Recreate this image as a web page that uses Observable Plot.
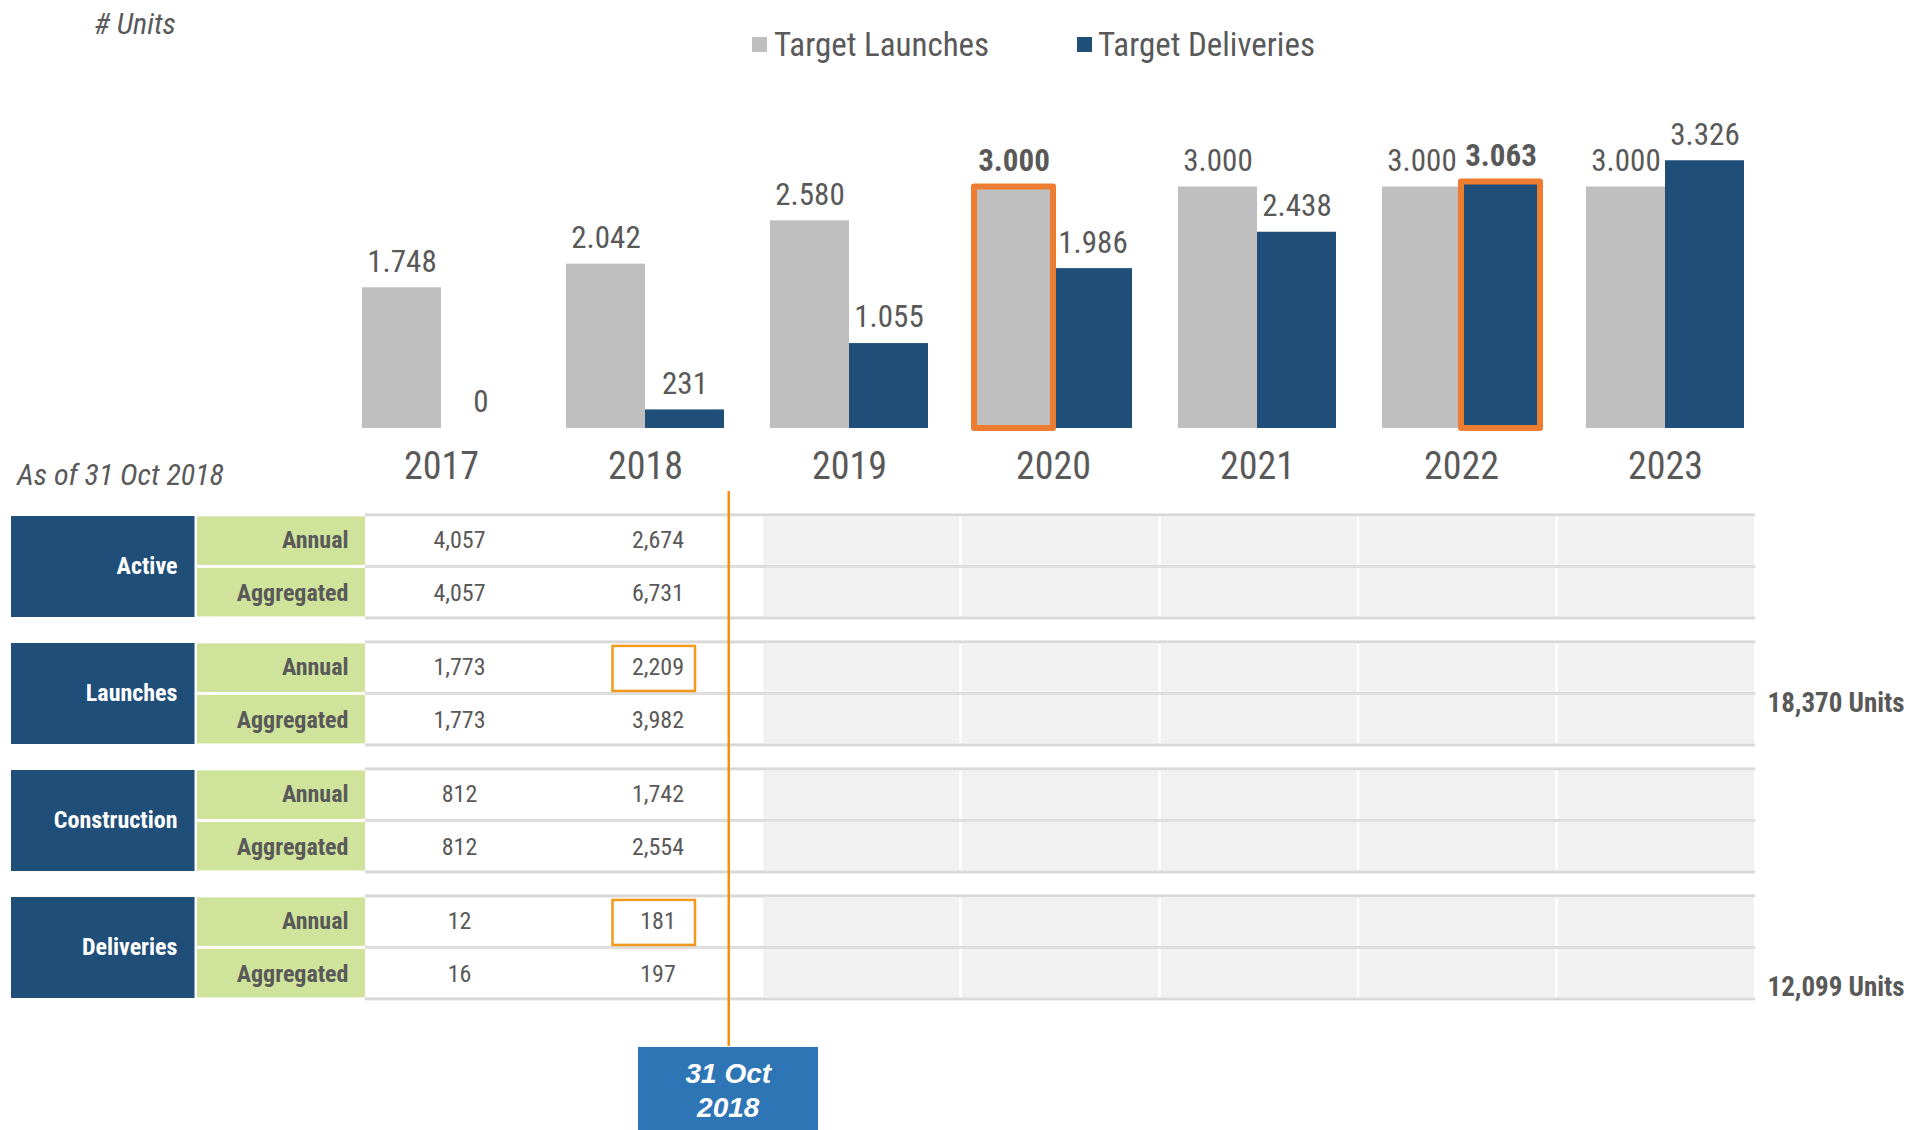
<!DOCTYPE html>
<html>
<head>
<meta charset="utf-8">
<script src="https://cdn.jsdelivr.net/npm/d3@7"></script>
<script src="https://cdn.jsdelivr.net/npm/@observablehq/plot@0.6"></script>
<style>
  html, body { margin: 0; padding: 0; background: #ffffff; }
  #root { position: relative; width: 1911px; height: 1130px; overflow: hidden; background: #ffffff; }
  .txt { position: absolute; white-space: nowrap; line-height: 1; color: #595959;
         font-family: "Liberation Sans Narrow", "Arial Narrow", "Roboto Condensed", "Liberation Sans", Arial, sans-serif; }
  .sw { position: absolute; width: 15px; height: 15px; }
  #datebox { position: absolute; background: #2e75b6; color: #ffffff; text-align: center;
             font-family: "Liberation Sans", Arial, sans-serif; font-weight: bold; font-style: italic;
             font-size: 28px; line-height: 34px; box-sizing: border-box; padding-top: 10px; }
</style>
</head>
<body>
<div id="root"></div>
<script>
// ---------------- DATA ----------------
const years = [2017, 2018, 2019, 2020, 2021, 2022, 2023];
const seriesNames = ["Target Launches", "Target Deliveries"];
const seriesColors = ["#bfbfbf", "#1f4e79"];
const targetLaunches = [1748, 2042, 2580, 3000, 3000, 3000, 3000];
const targetDeliveries = [0, 231, 1055, 1986, 2438, 3063, 3326];
const highlightBars = [[2020, "Target Launches"], [2022, "Target Deliveries"]];

const categories = ["Active", "Launches", "Construction", "Deliveries"];
const rowLabels = ["Annual", "Aggregated"];
const tableYears = [2017, 2018];
const activeAnnual = [4057, 2674];
const activeAggregated = [4057, 6731];
const launchesAnnual = [1773, 2209];
const launchesAggregated = [1773, 3982];
const constructionAnnual = [812, 1742];
const constructionAggregated = [812, 2554];
const deliveriesAnnual = [12, 181];
const deliveriesAggregated = [16, 197];
const highlightCells = [["Launches", "Annual", 2018], ["Deliveries", "Annual", 2018]];
const asOfDateText = "2018-10-31";
const asOfLabel = ["31 Oct", "2018"];
const unitsLabel = "# Units";
const asOfCaption = "As of 31 Oct 2018";

// ---------------- HELPERS ----------------
const FONT = '"Liberation Sans Narrow", "Arial Narrow", "Roboto Condensed", "Liberation Sans", Arial, sans-serif';
const TEXT = "#595959";
const root = document.getElementById("root");
const euro = d3.formatLocale({decimal: ",", thousands: ".", grouping: [3], currency: ["", ""]}).format(",d");
const fmtTable = d3.format(",");
const yearStart = y => new Date(Date.UTC(y, 0, 1));
const yearMid = y => new Date(Date.UTC(y, 6, 2));
const asOfDate = new Date(asOfDateText + "T00:00:00Z");

function place(el, left, top) {
  el.style.position = "absolute";
  el.style.left = left + "px";
  el.style.top = top + "px";
  root.appendChild(el);
}
function addText(str, left, centerY, size, opts = {}) {
  const d = document.createElement("div");
  d.className = "txt";
  d.textContent = str;
  d.style.fontSize = size + "px";
  d.style.left = left + "px";
  d.style.top = (centerY - 0.49 * size) + "px";
  if (opts.italic) d.style.fontStyle = "italic";
  if (opts.bold) d.style.fontWeight = "bold";
  root.appendChild(d);
  return d;
}

// ---------------- BAR CHART ----------------
const barData = years.flatMap((y, i) => [
  {year: y, series: seriesNames[0], value: targetLaunches[i]},
  {year: y, series: seriesNames[1], value: targetDeliveries[i]}
]);
const isHi = d => highlightBars.some(([y, s]) => y === d.year && s === d.series);

const bars = Plot.plot({
  width: 1911, height: 500,
  marginTop: 106, marginBottom: 72, marginLeft: 361, marginRight: 166,
  fx: {domain: years, paddingInner: 0.227, paddingOuter: 0, label: null, tickFormat: d => String(d)},
  x: {domain: seriesNames, padding: 0, axis: null},
  y: {domain: [0, 4000], axis: null},
  color: {domain: seriesNames, range: seriesColors},
  style: {background: "none", fontFamily: FONT, fontSize: "38px", color: TEXT},
  marks: [
    Plot.barY(barData, {fx: "year", x: "series", y: "value", fill: "series"}),
    Plot.barY(barData.filter(isHi), {fx: "year", x: "series", y: "value", fill: "none",
      stroke: "#ed7d31", strokeWidth: 6, strokeLinejoin: "round"}),
    Plot.text(barData.filter(d => !isHi(d)), {fx: "year", x: "series", y: "value",
      text: d => euro(d.value), dy: -26, fontSize: 31, fill: TEXT}),
    Plot.text(barData.filter(isHi), {fx: "year", x: "series", y: "value",
      text: d => euro(d.value), dy: -26, fontSize: 31, fontWeight: "bold", fill: TEXT}),
    Plot.axisFx({anchor: "bottom", tickSize: 0, tickPadding: 24, fontSize: 38, label: null, fill: TEXT,
      tickFormat: d => String(d)})
  ]
});
place(bars, 0, 0);

// ---------------- LEGEND & CAPTIONS ----------------
const legendX = [[752, 774], [1077, 1098]];
seriesNames.forEach((s, i) => {
  const sw = document.createElement("div");
  sw.className = "sw";
  sw.style.background = seriesColors[i];
  place(sw, legendX[i][0], 37);
  addText(s, legendX[i][1], 44, 33);
});
addText(unitsLabel, 94, 24, 30, {italic: true});
addText(asOfCaption, 17, 475, 30, {italic: true});

// ---------------- TABLE ----------------
const tableValues = {
  Active: {Annual: activeAnnual, Aggregated: activeAggregated},
  Launches: {Annual: launchesAnnual, Aggregated: launchesAggregated},
  Construction: {Annual: constructionAnnual, Aggregated: constructionAggregated},
  Deliveries: {Annual: deliveriesAnnual, Aggregated: deliveriesAggregated}
};
const rowsAll = categories.flatMap(c => rowLabels.map(r => ({cat: c, row: r})));
const valueCells = rowsAll.flatMap(({cat, row}) =>
  tableYears.map((y, i) => ({cat, row, year: y, value: tableValues[cat][row][i]})));
const futureYears = years.filter(y => !tableYears.includes(y));
const futureCells = rowsAll.flatMap(({cat, row}) => futureYears.map(y => ({cat, row, year: y})));
const hiCells = highlightCells.map(([cat, row, year]) => ({cat, row, year}));

const TABLE_TOP = 490, TABLE_H = 521, MT = 21.6, MB = 10;
const fyOpts = {domain: categories, paddingInner: 0.167, paddingOuter: 0, axis: null};
const yOpts = {domain: rowLabels, padding: 0, axis: null};
const GREEN = "#cfe39b", NAVY = "#1f4e79", LINE = "#d9d9d9", GREY = "#f1f1f1";

const left = Plot.plot({
  width: 370, height: TABLE_H, marginLeft: 11, marginRight: 4, marginTop: MT, marginBottom: MB,
  x: {domain: ["category", "label"], paddingInner: 0.011, paddingOuter: 0, axis: null},
  y: yOpts, fy: fyOpts,
  style: {background: "none", fontFamily: FONT},
  marks: [
    Plot.cell(categories, {x: () => "category", fy: d => d, fill: NAVY, insetTop: 3, insetBottom: 2, insetRight: -7.5}),
    Plot.text(categories, {x: () => "category", fy: d => d, text: d => d, fill: "#ffffff",
      fontWeight: "bold", fontSize: 24, textAnchor: "end", dx: 78}),
    Plot.cell(rowsAll.filter(d => d.row === rowLabels[0]), {x: () => "label", y: "row", fy: "cat",
      fill: GREEN, insetTop: 3, insetBottom: 1.5, insetLeft: 8}),
    Plot.cell(rowsAll.filter(d => d.row === rowLabels[1]), {x: () => "label", y: "row", fy: "cat",
      fill: GREEN, insetTop: 1.5, insetBottom: 3, insetLeft: 8}),
    Plot.text(rowsAll, {x: () => "label", y: "row", fy: "cat", text: "row", textAnchor: "end", dx: 71,
      fontWeight: "bold", fontSize: 24, fill: TEXT})
  ]
});
place(left, 0, TABLE_TOP);

const xDomain = [yearStart(years[0]), yearStart(years[years.length - 1] + 1)];
const rowSpan = {x1: () => xDomain[0], x2: () => xDomain[1], y: "row", fy: "cat"};
const launchTotal = d3.sum(targetLaunches);
const deliveryTotal = d3.sum(targetDeliveries);

const right = Plot.plot({
  width: 1546, height: TABLE_H, marginLeft: 0, marginRight: 156, marginTop: MT, marginBottom: MB,
  x: {type: "utc", domain: xDomain, axis: null},
  y: yOpts, fy: fyOpts,
  style: {background: "none", fontFamily: FONT},
  marks: [
    Plot.barX(rowsAll, {...rowSpan, fill: LINE}),
    Plot.barX(rowsAll.filter(d => d.row === rowLabels[0]), {...rowSpan, fill: "#ffffff", insetTop: 3, insetBottom: 1.5}),
    Plot.barX(rowsAll.filter(d => d.row === rowLabels[1]), {...rowSpan, fill: "#ffffff", insetTop: 1.5, insetBottom: 3}),
    Plot.barX(futureCells.filter(d => d.row === rowLabels[0]), {x1: d => yearStart(d.year), x2: d => yearStart(d.year + 1),
      y: "row", fy: "cat", fill: GREY, insetTop: 3, insetBottom: 1.5, insetLeft: 1.2, insetRight: 1.2}),
    Plot.barX(futureCells.filter(d => d.row === rowLabels[1]), {x1: d => yearStart(d.year), x2: d => yearStart(d.year + 1),
      y: "row", fy: "cat", fill: GREY, insetTop: 1.5, insetBottom: 3, insetLeft: 1.2, insetRight: 1.2}),
    Plot.text(valueCells, {x: d => yearMid(d.year), y: "row", fy: "cat", text: d => fmtTable(d.value),
      fontSize: 24, fill: TEXT, dx: -5}),
    Plot.barX(hiCells, {x1: d => yearStart(d.year), x2: d => yearStart(d.year + 1), y: "row", fy: "cat",
      fill: "none", stroke: "#f39a1e", strokeWidth: 2.5, insetTop: 5.5, insetBottom: 2.5, insetLeft: 49, insetRight: 67}),
    Plot.text([{cat: categories[1], row: rowLabels[1], t: fmtTable(launchTotal) + " Units"}],
      {x: () => xDomain[1], y: "row", fy: "cat", text: "t", textAnchor: "start", dx: 12, dy: -17,
       fontSize: 27, fontWeight: "bold", fill: TEXT}),
    Plot.text([{cat: categories[3], row: rowLabels[1], t: fmtTable(deliveryTotal) + " Units"}],
      {x: () => xDomain[1], y: "row", fy: "cat", text: "t", textAnchor: "start", dx: 12, dy: 13,
       fontSize: 27, fontWeight: "bold", fill: TEXT})
  ]
});
place(right, 365, TABLE_TOP);

// ---------------- AS-OF RULE & DATE BOX ----------------
const OV_TOP = 485;
const overlay = Plot.plot({
  width: 1546, height: 645, marginLeft: 0, marginRight: 156, marginTop: 6, marginBottom: 84,
  x: {type: "utc", domain: xDomain, axis: null},
  style: {background: "none"},
  marks: [Plot.ruleX([asOfDate], {x: d => d, stroke: "#f29111", strokeWidth: 2.5})]
});
place(overlay, 365, OV_TOP);

const cx = 365 + overlay.scale("x").apply(asOfDate);
const box = document.createElement("div");
box.id = "datebox";
box.innerHTML = asOfLabel.join("<br>");
box.style.width = "180px";
box.style.height = "90px";
place(box, cx - 90, 1047);
</script>
</body>
</html>
